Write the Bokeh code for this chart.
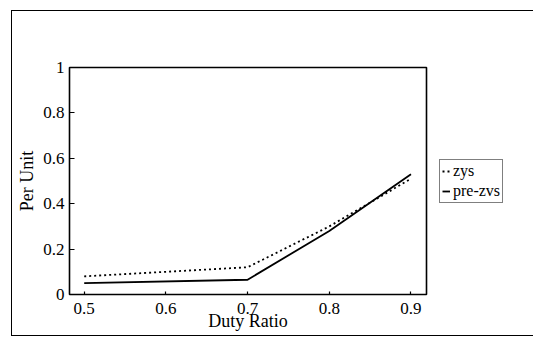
from bokeh.plotting import figure
from bokeh.models import FixedTicker, CustomJSTickFormatter, Legend, LegendItem, Range1d
from bokeh.embed import file_html
from bokeh.resources import INLINE

duty = [0.5, 0.7, 0.8, 0.9]
zvs = [0.08, 0.12, 0.30, 0.51]
pre_zvs = [0.05, 0.065, 0.28, 0.53]
x_ticks = [0.5, 0.6, 0.7, 0.8, 0.9]
y_ticks = [0, 0.2, 0.4, 0.6, 0.8, 1]
labels = ["zys", "pre-zvs"]

FONT = "Liberation Serif"

p = figure(frame_width=357, frame_height=227, output_backend="svg", toolbar_location=None,
           x_range=Range1d(0.482, 0.919), y_range=Range1d(0, 1),
           min_border_left=57, min_border_right=104, min_border_top=56, min_border_bottom=41,
           margin=(11, 0, 0, 12),
           styles={"outline": "1.3px solid black"})

p.grid.visible = False
p.outline_line_color = "black"
p.outline_line_width = 1.6
p.background_fill_color = "white"
p.border_fill_color = "white"

for ax in (p.xaxis[0], p.yaxis[0]):
    ax.axis_line_color = None
    ax.major_tick_out = 0
    ax.minor_tick_line_color = None
    ax.major_tick_line_color = "black"
    ax.major_tick_line_width = 1.2
    ax.major_label_text_font = FONT
    ax.major_label_text_font_size = "17px"
    ax.major_label_text_color = "black"
    ax.axis_label_text_font = FONT
    ax.axis_label_text_font_size = "18px"
    ax.axis_label_text_font_style = "normal"
    ax.axis_label_text_color = "black"

p.yaxis.major_tick_in = 5
p.xaxis.major_tick_in = 3
p.xaxis.ticker = FixedTicker(ticks=x_ticks)
p.yaxis.ticker = FixedTicker(ticks=y_ticks)
p.xaxis.formatter = CustomJSTickFormatter(code="return String(+tick.toFixed(2));")
p.yaxis.formatter = CustomJSTickFormatter(code="return String(+tick.toFixed(2));")
p.xaxis.axis_label = "Duty Ratio"
p.yaxis.axis_label = "Per Unit"
p.xaxis.major_label_standoff = 8
p.xaxis.axis_label_standoff = -6
p.yaxis.major_label_standoff = 5
p.yaxis.axis_label_standoff = 3

r1 = p.line(duty, zvs, line_color="black", line_width=1.8, line_dash="2 3")
r2 = p.line(duty, pre_zvs, line_color="black", line_width=1.8)

legend = Legend(items=[LegendItem(label=labels[0], renderers=[r1]),
                       LegendItem(label=labels[1], renderers=[r2])],
                location="left")
legend.border_line_color = "black"
legend.border_line_width = 1.4
legend.background_fill_alpha = 1
legend.label_text_font = FONT
legend.label_text_font_size = "16px"
legend.label_text_color = "black"
legend.glyph_width = 8
legend.glyph_height = 18
legend.label_standoff = 3
legend.label_height = 18
legend.spacing = 2
legend.padding = 2
legend.margin = 13
p.add_layout(legend, "right")

open("out.html", "w").write(file_html(p, INLINE))
